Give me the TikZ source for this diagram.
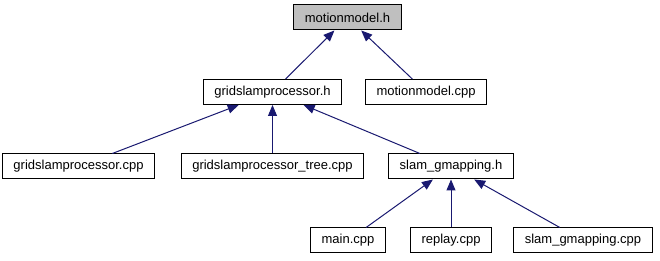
\documentclass[tikz,border=0pt]{standalone}
\usepackage{fontspec}
\setmainfont{Liberation Sans}
\usepackage{xcolor}
\usepackage{tikz}
\usetikzlibrary{arrows.meta}

\definecolor{edgeblue}{HTML}{191970}
\definecolor{focusgray}{HTML}{BFBFBF}

\begin{document}
\begin{tikzpicture}[x=1pt,y=1pt,
		file/.style={draw=black,line width=1pt,fill=white,minimum height=25pt,
			inner xsep=11pt,inner ysep=0pt,font=\fontsize{13}{15}\selectfont},
		incl/.style={edgeblue,line width=1pt,
			<-,>={Triangle[length=11pt,width=9pt]}}]
	\useasboundingbox (0,0) rectangle (660,261);
	
	% rows of the include graph
	\def\ra{243.5}
	\def\rb{169}
	\def\rc{94.5}
	\def\rd{20.5}
	
	\node[file,fill=focusgray] (mmh) at (347.5,\ra) {motionmodel.h};
	
	\node[file] (gsph) at (272.5,\rb) {gridslamprocessor.h};
	\node[file] (mmcpp) at (426,\rb) {motionmodel.cpp};
	
	\node[file] (gspcpp) at (78.5,\rc) {gridslamprocessor.cpp};
	\node[file] (gsptree) at (272.5,\rc) {gridslamprocessor\_tree.cpp};
	\node[file] (sgh) at (451,\rc) {slam\_gmapping.h};
	
	\node[file] (maincpp) at (348,\rd) {main.cpp};
	\node[file] (replay) at (451,\rd) {replay.cpp};
	\node[file] (sgcpp) at (583,\rd) {slam\_gmapping.cpp};
	
	\draw[incl] (mmh) -- (gsph);
	\draw[incl] (mmh) -- (mmcpp);
	
	\draw[incl] (gsph) -- (gspcpp);
	\draw[incl] (gsph) -- (gsptree);
	\draw[incl] (gsph) -- (sgh);
	
	\draw[incl] (sgh) -- (maincpp);
	\draw[incl] (sgh) -- (replay);
	\draw[incl] (sgh) -- (sgcpp);
\end{tikzpicture}
\end{document}
